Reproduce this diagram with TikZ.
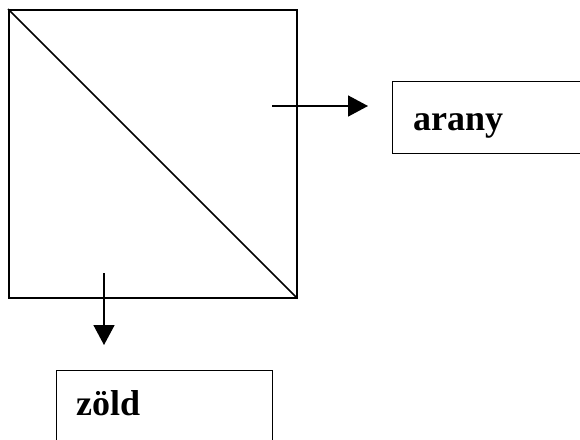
\documentclass[tikz,border=0pt]{standalone}
\usepackage{fontspec}
\setmainfont{Liberation Serif}
\usetikzlibrary{arrows.meta}
\begin{document}
\begin{tikzpicture}[x=1pt,y=-1pt,
  line/.style={line width=1.6pt,black},
  boxnode/.style={draw,line width=1.3pt,anchor=north west,inner sep=0pt},
  lbl/.style={anchor=base west,inner sep=0pt,font=\fontsize{36}{40}\selectfont\bfseries},
  arr/.style={line width=1.6pt,-{Triangle[length=20pt,width=21pt]}}]
\useasboundingbox (0,0) rectangle (580,439);
\node[draw,line width=1.6pt,anchor=north west,inner sep=0pt,minimum width=288pt,minimum height=288pt] (sq) at (8,9) {};
\draw[line] (sq.north west) -- (sq.south east);
\node[boxnode,minimum width=220pt,minimum height=72pt] (arany) at (392,81) {};
\node[boxnode,minimum width=216pt,minimum height=100pt] (zold) at (56,370) {};
\node[lbl] (t1) at (413,130) {arany};
\node[lbl] (t2) at (76,415) {zöld};
\coordinate (a1) at (272,106);
\coordinate (a2) at (368,106);
\coordinate (b1) at (104,273);
\coordinate (b2) at (104,345);
\draw[arr] (a1) -- (a2);
\draw[arr] (b1) -- (b2);
\end{tikzpicture}
\end{document}
